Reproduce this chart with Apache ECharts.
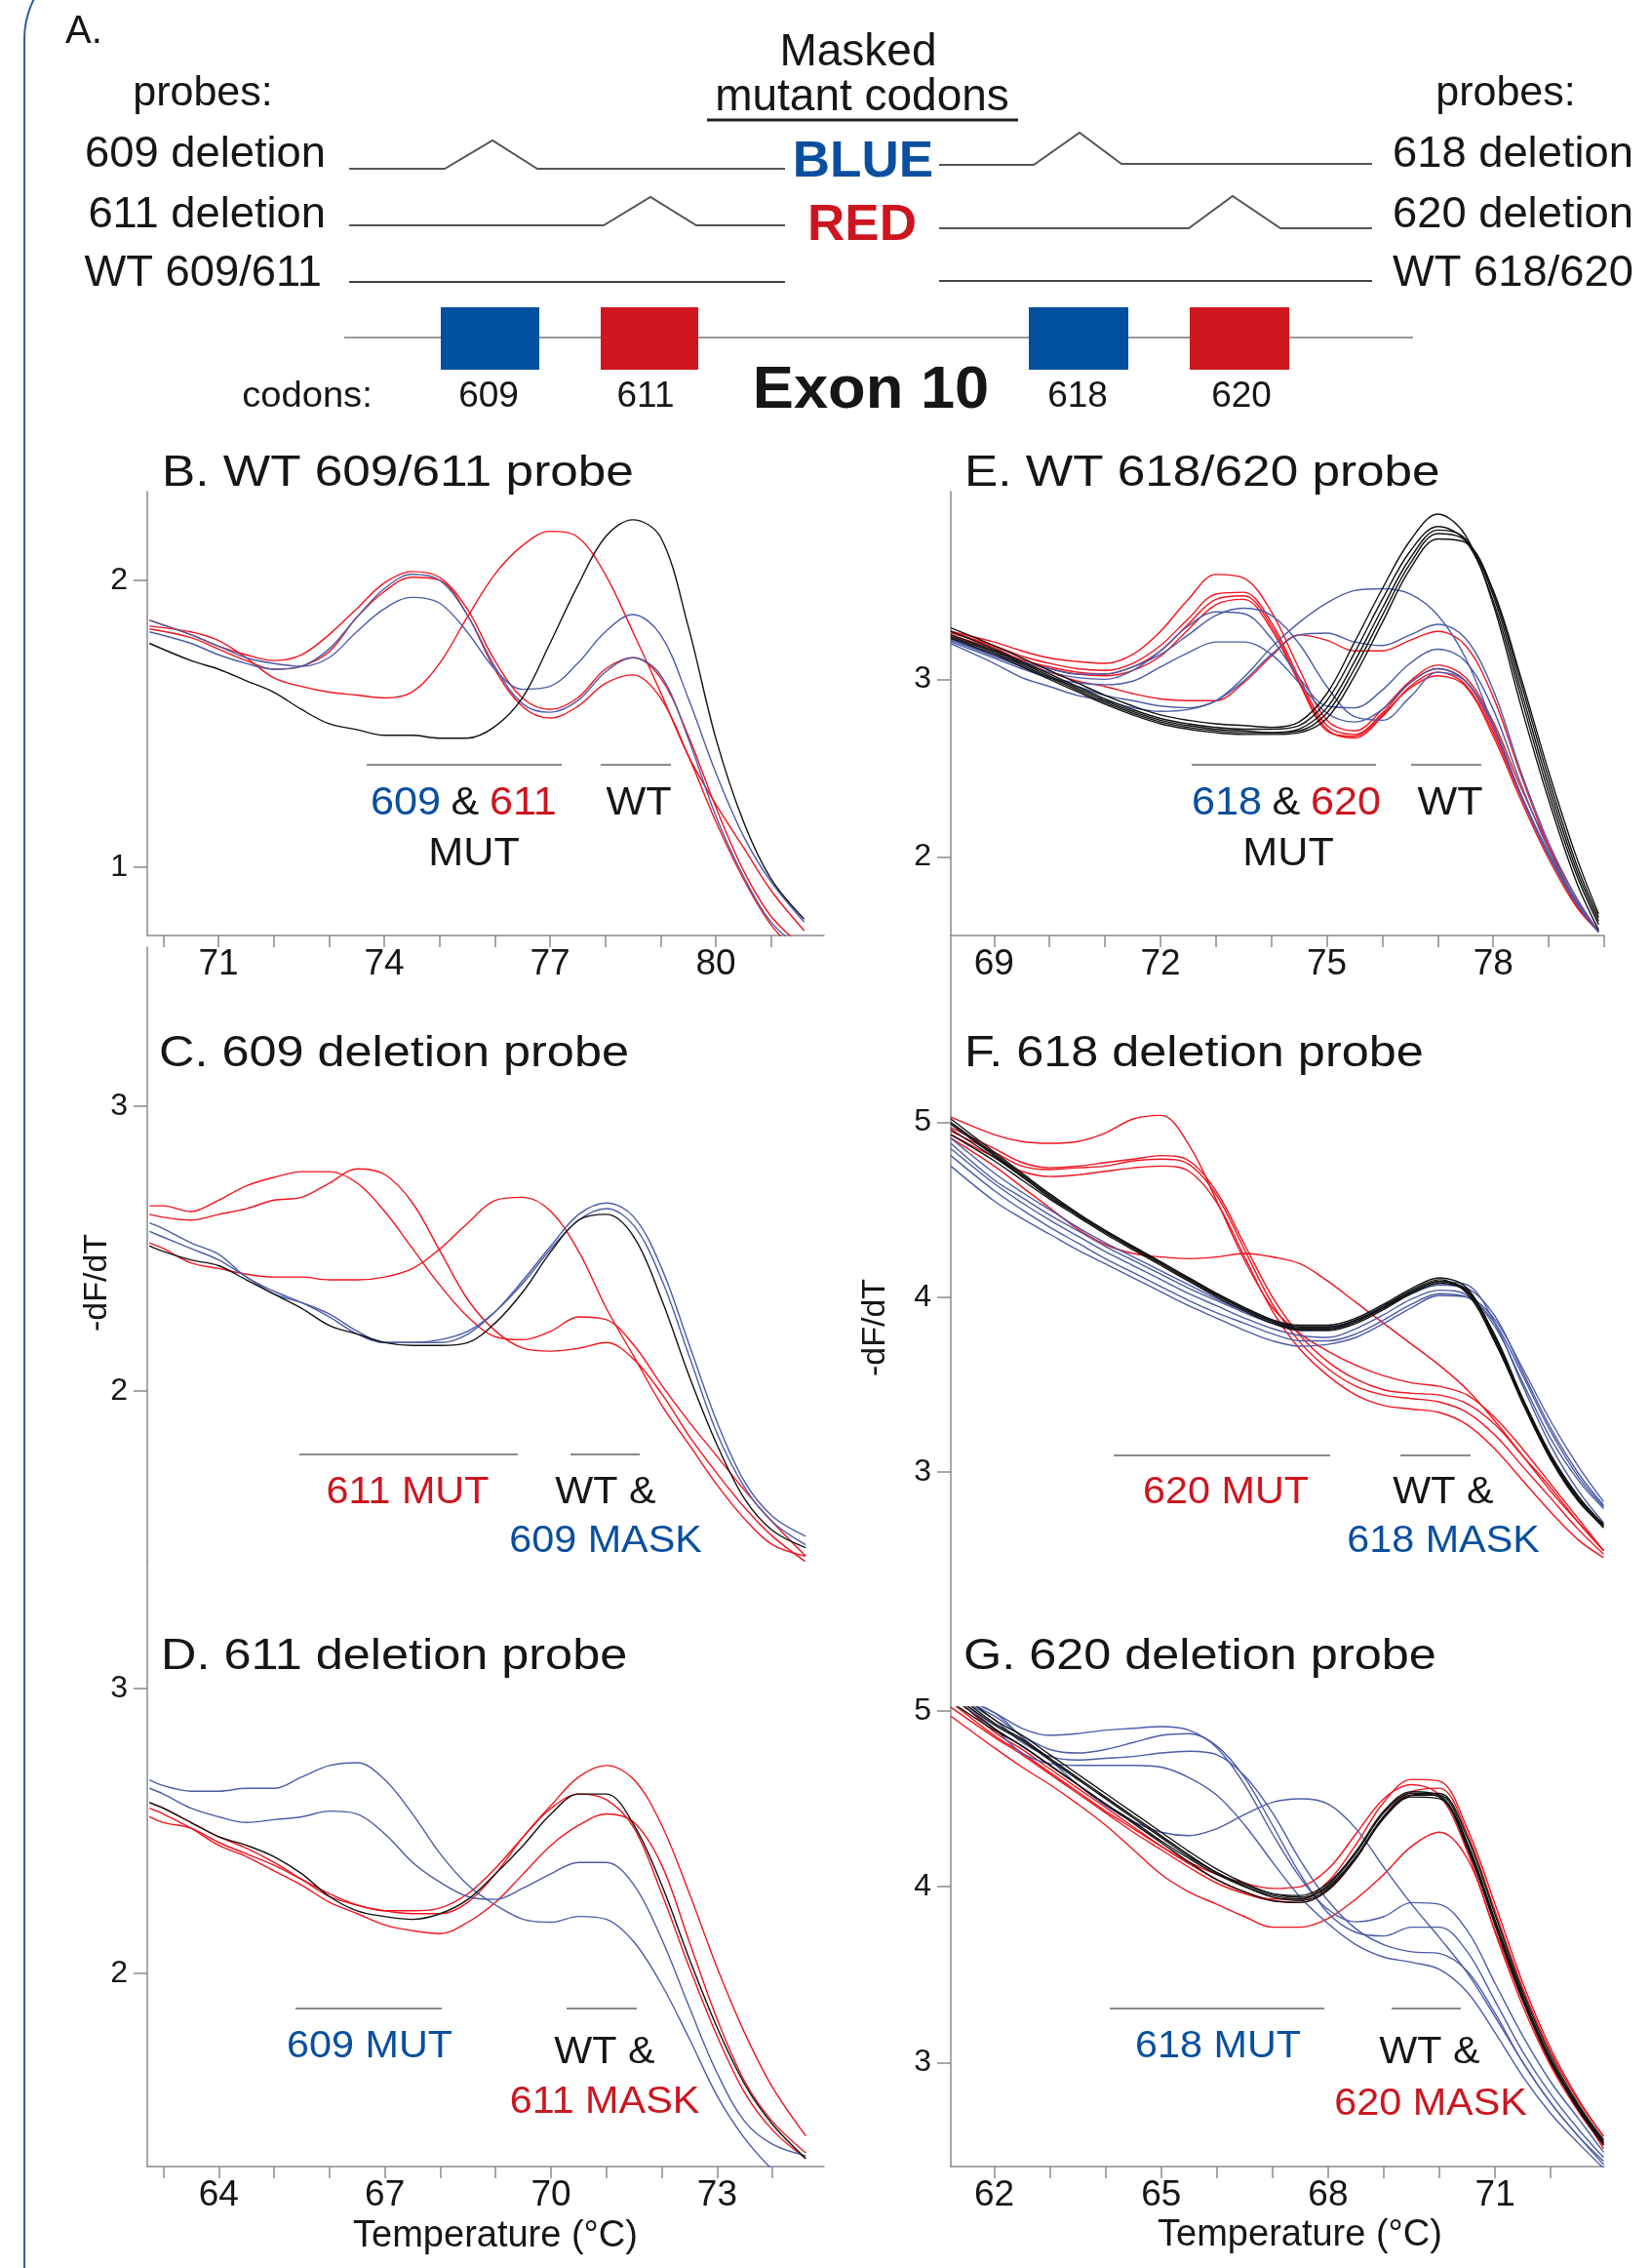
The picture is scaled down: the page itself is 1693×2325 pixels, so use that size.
<!DOCTYPE html>
<html>
<head>
<meta charset="utf-8">
<title>Exon 10 probes</title>
<script src="https://cdn.jsdelivr.net/npm/echarts@6/dist/echarts.min.js"></script>
<style>
  html, body { margin: 0; padding: 0; background: #fff; }
  #chart { width: 1693px; height: 2325px; }
</style>
</head>
<body>
<div id="chart"></div>
<script>
// ---- temperatures (x) ----
var tempB = [69.75, 70.5, 71, 71.5, 72, 72.5, 73, 73.5, 74, 74.5, 75, 75.5, 76, 76.5, 77, 77.5, 78, 78.5, 79, 79.5, 80, 80.5, 81, 81.6];
var tempCD = [62.75, 63, 63.5, 64, 64.5, 65, 65.5, 66, 66.5, 67, 67.5, 68, 68.5, 69, 69.5, 70, 70.5, 71, 71.5, 72, 72.5, 73, 73.5, 74, 74.6];
var tempE = [68.22, 69, 69.5, 70, 70.5, 71, 71.5, 72, 72.5, 73, 73.5, 74, 74.5, 75, 75.5, 76, 76.5, 77, 77.5, 78, 78.5, 79, 79.5, 79.9];
var tempFG = [61.22, 62, 62.5, 63, 63.5, 64, 64.5, 65, 65.5, 66, 66.5, 67, 67.5, 68, 68.5, 69, 69.5, 70, 70.5, 71, 71.5, 72, 72.5, 72.95];

// ---- B. WT 609/611 probe ----
var bWT   = [1.78, 1.72, 1.69, 1.65, 1.61, 1.55, 1.50, 1.48, 1.46, 1.46, 1.45, 1.45, 1.49, 1.59, 1.78, 1.98, 2.15, 2.21, 2.15, 1.84, 1.45, 1.16, 0.96, 0.82];
var bRed1 = [1.84, 1.82, 1.79, 1.73, 1.66, 1.63, 1.61, 1.60, 1.59, 1.61, 1.71, 1.87, 2.02, 2.12, 2.17, 2.15, 2.02, 1.82, 1.61, 1.39, 1.22, 1.07, 0.92, 0.78];
var bRed2 = [1.86, 1.81, 1.77, 1.74, 1.72, 1.74, 1.81, 1.90, 1.99, 2.03, 2.01, 1.90, 1.72, 1.59, 1.55, 1.59, 1.69, 1.73, 1.66, 1.46, 1.21, 0.99, 0.83, 0.72];
var bRed3 = [1.83, 1.80, 1.76, 1.72, 1.69, 1.70, 1.75, 1.87, 1.96, 2.01, 2.00, 1.88, 1.69, 1.56, 1.52, 1.56, 1.64, 1.67, 1.59, 1.39, 1.16, 0.96, 0.80, 0.68];
var bBlue1 = [1.86, 1.81, 1.77, 1.73, 1.71, 1.70, 1.73, 1.82, 1.90, 1.94, 1.92, 1.82, 1.69, 1.62, 1.63, 1.71, 1.82, 1.88, 1.81, 1.59, 1.33, 1.11, 0.95, 0.81];
var bBlue2 = [1.82, 1.78, 1.74, 1.71, 1.69, 1.70, 1.76, 1.87, 1.97, 2.02, 2.00, 1.88, 1.70, 1.57, 1.54, 1.58, 1.68, 1.73, 1.67, 1.45, 1.18, 0.97, 0.81, 0.71];

// ---- C. 609 deletion probe ----
var cRed1 = [2.65, 2.65, 2.63, 2.67, 2.72, 2.75, 2.77, 2.77, 2.73, 2.63, 2.50, 2.37, 2.26, 2.19, 2.18, 2.21, 2.26, 2.25, 2.16, 2.02, 1.89, 1.77, 1.65, 1.54, 1.42];
var cRed2 = [2.62, 2.61, 2.60, 2.62, 2.64, 2.67, 2.68, 2.73, 2.78, 2.76, 2.66, 2.49, 2.32, 2.21, 2.15, 2.14, 2.15, 2.17, 2.11, 1.99, 1.84, 1.71, 1.59, 1.49, 1.40];
var cRed3 = [2.52, 2.50, 2.45, 2.43, 2.41, 2.40, 2.40, 2.39, 2.39, 2.40, 2.43, 2.50, 2.59, 2.67, 2.68, 2.63, 2.49, 2.29, 2.12, 1.95, 1.81, 1.67, 1.55, 1.46, 1.42];
var cWT   = [2.51, 2.49, 2.46, 2.44, 2.39, 2.34, 2.29, 2.23, 2.20, 2.17, 2.16, 2.16, 2.17, 2.24, 2.35, 2.49, 2.60, 2.62, 2.54, 2.32, 2.05, 1.81, 1.62, 1.51, 1.45];
var cBlue1 = [2.59, 2.57, 2.52, 2.48, 2.40, 2.35, 2.31, 2.26, 2.20, 2.17, 2.17, 2.17, 2.20, 2.28, 2.39, 2.51, 2.62, 2.66, 2.61, 2.43, 2.16, 1.89, 1.68, 1.56, 1.49];
var cBlue2 = [2.56, 2.54, 2.50, 2.46, 2.40, 2.34, 2.31, 2.27, 2.21, 2.17, 2.17, 2.18, 2.21, 2.28, 2.38, 2.50, 2.60, 2.64, 2.58, 2.39, 2.12, 1.85, 1.66, 1.54, 1.46];

// ---- D. 611 deletion probe ----
var dWT   = [2.60, 2.58, 2.53, 2.48, 2.45, 2.41, 2.35, 2.27, 2.22, 2.20, 2.19, 2.21, 2.26, 2.35, 2.45, 2.56, 2.63, 2.63, 2.52, 2.31, 2.05, 1.81, 1.61, 1.47, 1.35];
var dRed1 = [2.55, 2.53, 2.51, 2.46, 2.42, 2.38, 2.33, 2.28, 2.24, 2.22, 2.21, 2.21, 2.25, 2.35, 2.48, 2.59, 2.69, 2.73, 2.68, 2.52, 2.28, 2.02, 1.79, 1.60, 1.43];
var dRed2 = [2.60, 2.58, 2.53, 2.48, 2.44, 2.39, 2.33, 2.27, 2.24, 2.22, 2.22, 2.23, 2.28, 2.37, 2.48, 2.58, 2.63, 2.61, 2.51, 2.28, 2.02, 1.78, 1.58, 1.45, 1.35];
var dRed3 = [2.58, 2.56, 2.51, 2.45, 2.41, 2.36, 2.31, 2.25, 2.21, 2.17, 2.15, 2.14, 2.18, 2.25, 2.35, 2.45, 2.52, 2.56, 2.53, 2.38, 2.11, 1.84, 1.62, 1.48, 1.37];
var dBlue1 = [2.68, 2.66, 2.64, 2.64, 2.65, 2.65, 2.69, 2.73, 2.74, 2.68, 2.56, 2.42, 2.31, 2.24, 2.19, 2.18, 2.20, 2.19, 2.11, 1.96, 1.77, 1.57, 1.42, 1.31, 1.20];
var dBlue2 = [2.65, 2.63, 2.58, 2.55, 2.53, 2.54, 2.55, 2.57, 2.56, 2.49, 2.39, 2.32, 2.27, 2.26, 2.30, 2.35, 2.39, 2.39, 2.31, 2.12, 1.88, 1.65, 1.48, 1.40, 1.36];

// ---- E. WT 618/620 probe ----
var eWT1 = [3.29, 3.19, 3.12, 3.05, 2.98, 2.91, 2.85, 2.80, 2.77, 2.75, 2.74, 2.73, 2.76, 2.92, 3.21, 3.51, 3.78, 3.93, 3.81, 3.42, 2.85, 2.32, 1.86, 1.59];
var eWT2 = [3.27, 3.17, 3.10, 3.03, 2.96, 2.89, 2.83, 2.78, 2.75, 2.73, 2.72, 2.72, 2.74, 2.88, 3.15, 3.45, 3.72, 3.86, 3.78, 3.44, 2.90, 2.36, 1.90, 1.62];
var eWT3 = [3.25, 3.16, 3.09, 3.02, 2.95, 2.88, 2.82, 2.77, 2.74, 2.72, 2.71, 2.70, 2.72, 2.84, 3.10, 3.40, 3.68, 3.84, 3.79, 3.47, 2.94, 2.40, 1.93, 1.64];
var eWT4 = [3.24, 3.15, 3.08, 3.01, 2.94, 2.87, 2.81, 2.76, 2.73, 2.71, 2.70, 2.70, 2.71, 2.81, 3.06, 3.36, 3.65, 3.82, 3.78, 3.49, 2.98, 2.44, 1.96, 1.66];
var eWT5 = [3.23, 3.14, 3.07, 3.00, 2.93, 2.86, 2.80, 2.75, 2.72, 2.70, 2.69, 2.69, 2.70, 2.78, 3.02, 3.32, 3.62, 3.79, 3.77, 3.50, 3.01, 2.48, 2.00, 1.68];
var eRed1 = [3.27, 3.21, 3.16, 3.12, 3.10, 3.09, 3.14, 3.27, 3.45, 3.59, 3.57, 3.38, 3.06, 2.77, 2.71, 2.83, 2.99, 3.08, 3.01, 2.76, 2.39, 2.06, 1.77, 1.58];
var eRed2 = [3.26, 3.19, 3.13, 3.09, 3.06, 3.05, 3.09, 3.19, 3.34, 3.48, 3.49, 3.32, 3.01, 2.74, 2.69, 2.81, 2.98, 3.06, 2.99, 2.72, 2.35, 2.02, 1.75, 1.58];
var eRed3 = [3.25, 3.17, 3.11, 3.07, 3.04, 3.03, 3.07, 3.16, 3.31, 3.45, 3.47, 3.30, 2.99, 2.72, 2.67, 2.79, 2.96, 3.04, 2.97, 2.70, 2.34, 2.01, 1.73, 1.58];
var eRed4 = [3.24, 3.16, 3.10, 3.06, 3.03, 3.02, 3.05, 3.13, 3.28, 3.42, 3.45, 3.28, 2.98, 2.71, 2.68, 2.80, 2.95, 3.02, 2.96, 2.68, 2.32, 1.99, 1.72, 1.58];
var eRed5 = [3.27, 3.18, 3.10, 3.04, 2.99, 2.96, 2.92, 2.89, 2.88, 2.88, 2.98, 3.13, 3.25, 3.22, 3.16, 3.16, 3.22, 3.27, 3.19, 2.90, 2.46, 2.06, 1.75, 1.58];
var eBlue1 = [3.23, 3.16, 3.10, 3.06, 3.03, 3.03, 3.07, 3.14, 3.25, 3.36, 3.40, 3.36, 3.20, 2.96, 2.79, 2.77, 2.90, 3.04, 2.99, 2.74, 2.35, 2.02, 1.75, 1.58];
var eBlue2 = [3.22, 3.14, 3.09, 3.04, 3.01, 3.00, 3.05, 3.16, 3.30, 3.38, 3.37, 3.23, 3.01, 2.85, 2.84, 2.94, 3.09, 3.17, 3.10, 2.83, 2.41, 2.04, 1.75, 1.58];
var eBlue3 = [3.21, 3.12, 3.06, 3.01, 2.98, 2.97, 2.99, 3.07, 3.15, 3.21, 3.21, 3.14, 2.98, 2.81, 2.76, 2.83, 2.98, 3.06, 2.99, 2.74, 2.35, 2.01, 1.74, 1.58];
var eBlue4 = [3.20, 3.09, 3.01, 2.96, 2.91, 2.88, 2.84, 2.82, 2.83, 2.88, 3.01, 3.18, 3.32, 3.43, 3.50, 3.51, 3.48, 3.36, 3.12, 2.74, 2.35, 2.01, 1.74, 1.58];
var eBlue5 = [3.22, 3.13, 3.07, 3.01, 2.96, 2.91, 2.88, 2.85, 2.84, 2.88, 2.99, 3.14, 3.25, 3.26, 3.21, 3.19, 3.25, 3.31, 3.23, 2.94, 2.48, 2.08, 1.77, 1.58];

// ---- F. 618 deletion probe ----
var fRed1 = [5.03, 4.93, 4.89, 4.88, 4.89, 4.94, 5.02, 5.04, 4.87, 4.55, 4.21, 3.94, 3.79, 3.69, 3.61, 3.55, 3.51, 3.49, 3.44, 3.31, 3.13, 2.93, 2.73, 2.55];
var fRed2 = [4.97, 4.85, 4.77, 4.74, 4.75, 4.77, 4.79, 4.81, 4.78, 4.60, 4.30, 4.00, 3.78, 3.63, 3.53, 3.47, 3.45, 3.44, 3.39, 3.27, 3.09, 2.91, 2.71, 2.55];
var fRed3 = [4.95, 4.83, 4.75, 4.73, 4.74, 4.75, 4.78, 4.79, 4.76, 4.58, 4.27, 3.96, 3.74, 3.59, 3.49, 3.44, 3.42, 3.40, 3.34, 3.21, 3.03, 2.85, 2.67, 2.53];
var fRed4 = [4.93, 4.80, 4.72, 4.69, 4.70, 4.72, 4.74, 4.75, 4.72, 4.54, 4.23, 3.92, 3.70, 3.55, 3.44, 3.38, 3.36, 3.34, 3.27, 3.13, 2.95, 2.77, 2.61, 2.51];
var fRed5 = [4.91, 4.75, 4.63, 4.51, 4.39, 4.30, 4.25, 4.23, 4.22, 4.23, 4.25, 4.23, 4.19, 4.09, 3.97, 3.85, 3.73, 3.61, 3.47, 3.29, 3.09, 2.89, 2.71, 2.55];
var fWT1 = [5.02, 4.83, 4.71, 4.59, 4.48, 4.38, 4.29, 4.20, 4.11, 4.02, 3.94, 3.87, 3.83, 3.83, 3.87, 3.95, 4.04, 4.10, 4.02, 3.74, 3.40, 3.08, 2.84, 2.69];
var fWT2 = [4.99, 4.81, 4.69, 4.57, 4.47, 4.37, 4.28, 4.19, 4.10, 4.01, 3.93, 3.86, 3.82, 3.82, 3.87, 3.94, 4.03, 4.09, 4.03, 3.75, 3.39, 3.07, 2.83, 2.69];
var fWT3 = [4.96, 4.80, 4.69, 4.58, 4.47, 4.37, 4.28, 4.19, 4.10, 4.01, 3.93, 3.86, 3.82, 3.82, 3.86, 3.94, 4.03, 4.09, 4.04, 3.77, 3.41, 3.09, 2.85, 2.70];
var fWT4 = [4.93, 4.78, 4.67, 4.56, 4.46, 4.36, 4.27, 4.18, 4.09, 4.00, 3.92, 3.85, 3.81, 3.81, 3.85, 3.93, 4.02, 4.08, 4.03, 3.78, 3.42, 3.10, 2.86, 2.70];
var fWT5 = [5.00, 4.82, 4.70, 4.59, 4.48, 4.38, 4.29, 4.20, 4.11, 4.02, 3.94, 3.87, 3.84, 3.84, 3.88, 3.96, 4.05, 4.11, 4.05, 3.76, 3.40, 3.08, 2.84, 2.68];
var fBlue1 = [4.88, 4.67, 4.57, 4.47, 4.38, 4.29, 4.21, 4.13, 4.05, 3.98, 3.91, 3.85, 3.81, 3.81, 3.86, 3.94, 4.02, 4.07, 4.05, 3.89, 3.57, 3.25, 2.99, 2.81];
var fBlue2 = [4.85, 4.65, 4.54, 4.44, 4.35, 4.26, 4.18, 4.10, 4.02, 3.95, 3.88, 3.82, 3.78, 3.77, 3.82, 3.90, 3.99, 4.04, 4.01, 3.83, 3.51, 3.19, 2.95, 2.79];
var fBlue3 = [4.81, 4.61, 4.50, 4.40, 4.31, 4.22, 4.14, 4.06, 3.98, 3.91, 3.85, 3.79, 3.75, 3.75, 3.79, 3.87, 3.96, 4.02, 4.00, 3.85, 3.55, 3.23, 2.97, 2.80];
var fBlue4 = [4.75, 4.55, 4.45, 4.36, 4.27, 4.19, 4.11, 4.03, 3.95, 3.88, 3.81, 3.75, 3.72, 3.73, 3.77, 3.85, 3.94, 4.01, 4.00, 3.87, 3.59, 3.29, 3.03, 2.83];
var fBlue5 = [4.91, 4.71, 4.60, 4.50, 4.40, 4.31, 4.23, 4.15, 4.07, 3.99, 3.92, 3.86, 3.83, 3.83, 3.87, 3.95, 4.03, 4.09, 4.07, 3.85, 3.49, 3.15, 2.89, 2.71];

// ---- G. 620 deletion probe ----
var gWT1 = [5.05, 4.89, 4.80, 4.69, 4.58, 4.47, 4.37, 4.26, 4.16, 4.07, 4.00, 3.95, 3.93, 4.01, 4.19, 4.42, 4.53, 4.51, 4.22, 3.78, 3.35, 3.00, 2.73, 2.53];
var gWT2 = [5.10, 4.92, 4.83, 4.72, 4.61, 4.50, 4.39, 4.28, 4.17, 4.08, 4.00, 3.94, 3.92, 3.99, 4.17, 4.40, 4.52, 4.52, 4.25, 3.81, 3.38, 3.02, 2.75, 2.55];
var gWT3 = [5.15, 4.95, 4.86, 4.75, 4.64, 4.53, 4.42, 4.31, 4.20, 4.10, 4.02, 3.96, 3.94, 4.00, 4.17, 4.39, 4.52, 4.53, 4.28, 3.84, 3.40, 3.04, 2.76, 2.56];
var gWT4 = [5.08, 4.90, 4.80, 4.69, 4.58, 4.47, 4.36, 4.25, 4.14, 4.04, 3.97, 3.92, 3.91, 3.98, 4.16, 4.39, 4.51, 4.50, 4.23, 3.79, 3.36, 3.01, 2.74, 2.54];
var gWT5 = [5.12, 4.93, 4.84, 4.73, 4.62, 4.51, 4.40, 4.29, 4.18, 4.08, 4.01, 3.96, 3.95, 4.02, 4.20, 4.43, 4.54, 4.52, 4.24, 3.80, 3.37, 3.01, 2.74, 2.54];
var gRed1 = [4.97, 4.79, 4.68, 4.58, 4.47, 4.35, 4.21, 4.07, 3.97, 3.90, 3.83, 3.77, 3.77, 3.82, 3.93, 4.07, 4.23, 4.31, 4.16, 3.75, 3.35, 2.99, 2.74, 2.51];
var gRed2 = [5.10, 4.88, 4.78, 4.67, 4.56, 4.45, 4.34, 4.23, 4.13, 4.04, 3.97, 3.93, 3.93, 4.03, 4.24, 4.48, 4.61, 4.60, 4.33, 3.90, 3.45, 3.08, 2.79, 2.58];
var gRed3 = [5.05, 4.86, 4.76, 4.65, 4.54, 4.43, 4.33, 4.23, 4.14, 4.07, 4.02, 3.99, 4.00, 4.10, 4.30, 4.50, 4.58, 4.52, 4.20, 3.74, 3.32, 2.98, 2.72, 2.53];
var gRed4 = [5.02, 4.85, 4.75, 4.64, 4.53, 4.42, 4.31, 4.21, 4.11, 4.02, 3.96, 3.92, 3.91, 3.98, 4.16, 4.40, 4.54, 4.56, 4.30, 3.86, 3.42, 3.06, 2.78, 2.58];
var gBlue1 = [5.10, 4.99, 4.90, 4.86, 4.87, 4.89, 4.90, 4.91, 4.89, 4.79, 4.58, 4.30, 4.05, 3.87, 3.80, 3.83, 3.91, 3.90, 3.75, 3.45, 3.15, 2.89, 2.68, 2.49];
var gBlue2 = [5.10, 4.97, 4.86, 4.78, 4.76, 4.78, 4.82, 4.86, 4.87, 4.80, 4.62, 4.35, 4.07, 3.85, 3.74, 3.72, 3.77, 3.77, 3.63, 3.35, 3.06, 2.82, 2.62, 2.46];
var gBlue3 = [5.10, 4.95, 4.82, 4.74, 4.72, 4.73, 4.74, 4.76, 4.77, 4.75, 4.63, 4.42, 4.15, 3.92, 3.76, 3.67, 3.63, 3.62, 3.52, 3.28, 3.00, 2.77, 2.58, 2.44];
var gBlue4 = [5.10, 4.90, 4.76, 4.70, 4.69, 4.69, 4.69, 4.68, 4.62, 4.52, 4.35, 4.14, 3.94, 3.79, 3.67, 3.60, 3.57, 3.53, 3.40, 3.17, 2.92, 2.71, 2.54, 2.40];
var gBlue5 = [5.10, 4.99, 4.85, 4.72, 4.58, 4.46, 4.37, 4.31, 4.29, 4.33, 4.41, 4.48, 4.50, 4.47, 4.33, 4.11, 3.90, 3.71, 3.51, 3.26, 3.00, 2.77, 2.58, 2.42];

// ---- tick labels ----
var ticksB = [70, 71, 72, 73, 74, 75, 76, 77, 78, 79, 80, 81];
var labelsB = [71, 74, 77, 80];
var ticksCD = [63, 64, 65, 66, 67, 68, 69, 70, 71, 72, 73, 74];
var labelsCD = [64, 67, 70, 73];
var ticksE = [69, 70, 71, 72, 73, 74, 75, 76, 77, 78, 79, 80];
var labelsE = [69, 72, 75, 78];
var ticksFG = [62, 63, 64, 65, 66, 67, 68, 69, 70, 71, 72];
var labelsFG = [62, 65, 68, 71];

var FONT = '"Liberation Sans", Arial, Helvetica, sans-serif';
var RED = '#f0141e', BLUE = '#4d5ca8', BLACK = '#111111';
var TXT_BLUE = '#0a4f9f', TXT_RED = '#cc161f', TXT = '#161616';
var AXIS = '#8a8a8a';

var chart = echarts.init(document.getElementById('chart'));

function curve(idx, xs, ys, color) {
    return {
        type: 'line', xAxisIndex: idx, yAxisIndex: idx,
        data: xs.map(function (x, i) { return [x, ys[i]]; }),
        smooth: 0.35, showSymbol: false, symbol: 'none', clip: true, silent: true,
        lineStyle: { color: color, width: 1.4 }
    };
}

function xAx(idx, min, max, ticks, labels, show) {
    return {
        type: 'value', gridIndex: idx, min: min, max: max, show: show,
        axisLine: { show: true, lineStyle: { color: AXIS, width: 1.5 } },
        axisTick: { show: true, length: 12, customValues: ticks, lineStyle: { color: AXIS, width: 1.5 } },
        axisLabel: { customValues: labels, fontSize: 37, color: TXT, fontFamily: FONT, margin: 11 },
        splitLine: { show: false }
    };
}

function yAx(idx, min, max, ticks) {
    return {
        type: 'value', gridIndex: idx, min: min, max: max,
        axisLine: { show: true, lineStyle: { color: AXIS, width: 1.5 } },
        axisTick: { show: true, length: 14, customValues: ticks, lineStyle: { color: AXIS, width: 1.5 } },
        axisLabel: { customValues: ticks, fontSize: 32, color: TXT, fontFamily: FONT, margin: 20 },
        splitLine: { show: false }
    };
}

function T(x, y, text, o) {
    o = o || {};
    var size = o.size || 40, weight = o.weight || 'normal', align = o.align || 'center';
    return {
        type: 'text', x: x, y: y, silent: true,
        rotation: o.rotation || 0, scaleX: o.sx || 1,
        style: {
            text: text, fill: o.color || TXT,
            font: weight + ' ' + size + 'px ' + FONT,
            fontSize: size, fontFamily: FONT, fontWeight: weight,
            textAlign: align, align: align,
            textVerticalAlign: 'middle', verticalAlign: 'middle'
        }
    };
}

function L(points, color, width) {
    return {
        type: 'polyline', silent: true,
        shape: { points: points },
        style: { stroke: color || AXIS, lineWidth: width || 2, fill: null }
    };
}

function R(x, y, w, h, color) {
    return { type: 'rect', silent: true, shape: { x: x, y: y, width: w, height: h }, style: { fill: color } };
}

var graphics = [
    // frame
    { type: 'rect', silent: true, shape: { x: 25, y: -50, width: 3000, height: 3000, r: 90 }, style: { fill: null, stroke: '#2f5f9e', lineWidth: 2 } },
    // panel A
    T(67, 33, 'A.', { size: 40, align: 'left' }),
    T(880, 54, 'Masked', { size: 46 }),
    T(884, 100, 'mutant codons', { size: 46 }),
    L([[725, 123], [1044, 123]], '#222', 3),
    T(208, 96, 'probes:', { size: 43 }),
    T(1544, 96, 'probes:', { size: 43 }),
    T(334, 159, '609 deletion', { size: 44, align: 'right', sx: 1.03 }),
    T(334, 221, '611 deletion', { size: 44, align: 'right', sx: 1.03 }),
    T(330, 281, 'WT 609/611', { size: 44, align: 'right', sx: 1.03 }),
    T(1428, 159, '618 deletion', { size: 44, align: 'left', sx: 1.03 }),
    T(1428, 221, '620 deletion', { size: 44, align: 'left', sx: 1.03 }),
    T(1428, 281, 'WT 618/620', { size: 44, align: 'left', sx: 1.03 }),
    L([[358, 173], [456, 173], [505, 144], [551, 173], [805, 173]], '#555', 2),
    L([[358, 231], [619, 231], [667, 202], [714, 231], [805, 231]], '#555', 2),
    L([[358, 289], [805, 289]], '#444', 2),
    L([[963, 169], [1060, 169], [1107, 136], [1150, 168], [1407, 168]], '#555', 2),
    L([[963, 234], [1219, 234], [1264, 201], [1313, 234], [1407, 234]], '#555', 2),
    L([[963, 288], [1407, 288]], '#444', 2),
    T(885, 167, 'BLUE', { size: 52, weight: 'bold', color: TXT_BLUE, sx: 1.02 }),
    T(884, 232, 'RED', { size: 52, weight: 'bold', color: TXT_RED, sx: 1.02 }),
    L([[353, 346], [1449, 346]], '#9a9a9a', 2),
    R(452, 315, 101, 64, '#00509e'),
    R(616, 315, 100, 64, '#d0161f'),
    R(1055, 315, 102, 64, '#00509e'),
    R(1220, 315, 102, 64, '#d0161f'),
    T(315, 407, 'codons:', { size: 37, sx: 1.03 }),
    T(501, 407, '609', { size: 37 }),
    T(662, 407, '611', { size: 37 }),
    T(1105, 407, '618', { size: 37 }),
    T(1273, 407, '620', { size: 37 }),
    T(893, 401, 'Exon 10', { size: 62, weight: 'bold', sx: 1.02 }),
    // panel titles
    T(166, 486, 'B. WT 609/611 probe', { size: 45, align: 'left', sx: 1.14 }),
    T(989, 486, 'E. WT 618/620 probe', { size: 45, align: 'left', sx: 1.14 }),
    T(163, 1081, 'C. 609 deletion probe', { size: 45, align: 'left', sx: 1.12 }),
    T(989, 1081, 'F. 618 deletion probe', { size: 45, align: 'left', sx: 1.12 }),
    T(165, 1699, 'D. 611 deletion probe', { size: 45, align: 'left', sx: 1.12 }),
    T(988, 1699, 'G. 620 deletion probe', { size: 45, align: 'left', sx: 1.12 }),
    // B annotations
    L([[376, 784], [576, 784]]), L([[616, 784], [688, 784]]),
    T(452, 824, '609', { size: 40, align: 'right', color: TXT_BLUE, sx: 1.08 }),
    T(477, 824, '&', { size: 40, sx: 1.08 }),
    T(502, 824, '611', { size: 40, align: 'left', color: TXT_RED, sx: 1.08 }),
    T(486, 876, 'MUT', { size: 40, sx: 1.08 }),
    T(655, 824, 'WT', { size: 40, sx: 1.08 }),
    // E annotations
    L([[1222, 784], [1411, 784]]), L([[1447, 784], [1519, 784]]),
    T(1294, 824, '618', { size: 40, align: 'right', color: TXT_BLUE, sx: 1.08 }),
    T(1319, 824, '&', { size: 40, sx: 1.08 }),
    T(1344, 824, '620', { size: 40, align: 'left', color: TXT_RED, sx: 1.08 }),
    T(1321, 876, 'MUT', { size: 40, sx: 1.08 }),
    T(1487, 824, 'WT', { size: 40, sx: 1.08 }),
    // C annotations
    L([[307, 1491], [531, 1491]]), L([[585, 1491], [656, 1491]]),
    T(418, 1530, '611 MUT', { size: 39, color: TXT_RED, sx: 1.06 }),
    T(621, 1530, 'WT &', { size: 39, sx: 1.06 }),
    T(621, 1580, '609 MASK', { size: 39, color: TXT_BLUE, sx: 1.06 }),
    // F annotations
    L([[1142, 1492], [1364, 1492]]), L([[1436, 1492], [1508, 1492]]),
    T(1257, 1530, '620 MUT', { size: 39, color: TXT_RED, sx: 1.06 }),
    T(1480, 1530, 'WT &', { size: 39, sx: 1.06 }),
    T(1480, 1580, '618 MASK', { size: 39, color: TXT_BLUE, sx: 1.06 }),
    // D annotations
    L([[303, 2059], [453, 2059]]), L([[581, 2059], [653, 2059]]),
    T(379, 2098, '609 MUT', { size: 39, color: TXT_BLUE, sx: 1.06 }),
    T(620, 2104, 'WT &', { size: 39, sx: 1.06 }),
    T(620, 2155, '611 MASK', { size: 39, color: TXT_RED, sx: 1.06 }),
    // G annotations
    L([[1138, 2059], [1358, 2059]]), L([[1427, 2059], [1498, 2059]]),
    T(1249, 2098, '618 MUT', { size: 39, color: TXT_BLUE, sx: 1.06 }),
    T(1466, 2104, 'WT &', { size: 39, sx: 1.06 }),
    T(1467, 2157, '620 MASK', { size: 39, color: TXT_RED, sx: 1.06 }),
    // axis titles
    T(100, 1315, '-dF/dT', { size: 34, rotation: Math.PI / 2 }),
    T(898, 1361, '-dF/dT', { size: 34, rotation: Math.PI / 2 }),
    T(508, 2293, 'Temperature (\u00B0C)', { size: 38 }),
    T(1333, 2292, 'Temperature (\u00B0C)', { size: 38 })
];

var series = [
    curve(0, tempB, bRed1, RED), curve(0, tempB, bRed2, RED), curve(0, tempB, bRed3, RED),
    curve(0, tempB, bBlue1, BLUE), curve(0, tempB, bBlue2, BLUE), curve(0, tempB, bWT, BLACK),

    curve(1, tempCD, cRed1, RED), curve(1, tempCD, cRed2, RED), curve(1, tempCD, cRed3, RED),
    curve(1, tempCD, cBlue1, BLUE), curve(1, tempCD, cBlue2, BLUE), curve(1, tempCD, cWT, BLACK),

    curve(2, tempCD, dRed1, RED), curve(2, tempCD, dRed2, RED), curve(2, tempCD, dRed3, RED),
    curve(2, tempCD, dBlue1, BLUE), curve(2, tempCD, dBlue2, BLUE), curve(2, tempCD, dWT, BLACK),

    curve(3, tempE, eRed1, RED), curve(3, tempE, eRed2, RED), curve(3, tempE, eRed3, RED),
    curve(3, tempE, eRed4, RED), curve(3, tempE, eRed5, RED),
    curve(3, tempE, eBlue1, BLUE), curve(3, tempE, eBlue2, BLUE), curve(3, tempE, eBlue3, BLUE),
    curve(3, tempE, eBlue4, BLUE), curve(3, tempE, eBlue5, BLUE),
    curve(3, tempE, eWT1, BLACK), curve(3, tempE, eWT2, BLACK), curve(3, tempE, eWT3, BLACK),
    curve(3, tempE, eWT4, BLACK), curve(3, tempE, eWT5, BLACK),

    curve(4, tempFG, fRed1, RED), curve(4, tempFG, fRed2, RED), curve(4, tempFG, fRed3, RED),
    curve(4, tempFG, fRed4, RED), curve(4, tempFG, fRed5, RED),
    curve(4, tempFG, fBlue1, BLUE), curve(4, tempFG, fBlue2, BLUE), curve(4, tempFG, fBlue3, BLUE),
    curve(4, tempFG, fBlue4, BLUE), curve(4, tempFG, fBlue5, BLUE),
    curve(4, tempFG, fWT1, BLACK), curve(4, tempFG, fWT2, BLACK), curve(4, tempFG, fWT3, BLACK),
    curve(4, tempFG, fWT4, BLACK), curve(4, tempFG, fWT5, BLACK),

    curve(5, tempFG, gRed1, RED), curve(5, tempFG, gRed2, RED), curve(5, tempFG, gRed3, RED),
    curve(5, tempFG, gRed4, RED),
    curve(5, tempFG, gBlue1, BLUE), curve(5, tempFG, gBlue2, BLUE), curve(5, tempFG, gBlue3, BLUE),
    curve(5, tempFG, gBlue4, BLUE), curve(5, tempFG, gBlue5, BLUE),
    curve(5, tempFG, gWT1, BLACK), curve(5, tempFG, gWT2, BLACK), curve(5, tempFG, gWT3, BLACK),
    curve(5, tempFG, gWT4, BLACK), curve(5, tempFG, gWT5, BLACK)
];

var option = {
    animation: false,
    backgroundColor: '#ffffff',
    grid: [
        { left: 151, top: 504, width: 694, height: 455, outerBoundsMode: 'none' },   // B
        { left: 151, top: 971, width: 694, height: 629, outerBoundsMode: 'none' },   // C
        { left: 151, top: 1600, width: 694, height: 621, outerBoundsMode: 'none' },  // D
        { left: 975, top: 504, width: 670, height: 455, outerBoundsMode: 'none' },   // E
        { left: 975, top: 959, width: 670, height: 791, outerBoundsMode: 'none' },   // F
        { left: 975, top: 1750, width: 670, height: 471, outerBoundsMode: 'none' }   // G
    ],
    xAxis: [
        xAx(0, 69.71, 81.96, ticksB, labelsB, true),
        xAx(1, 62.71, 74.93, ticksCD, labelsCD, false),
        xAx(2, 62.71, 74.93, ticksCD, labelsCD, true),
        xAx(3, 68.22, 80, ticksE, labelsE, true),
        xAx(4, 61.22, 72.96, ticksFG, labelsFG, false),
        xAx(5, 61.22, 72.96, ticksFG, labelsFG, true)
    ],
    yAxis: [
        yAx(0, 0.763, 2.308, [1, 2]),
        yAx(1, 1.404, 3.558, [2, 3]),
        yAx(2, 1.322, 3.449, [2, 3]),
        yAx(3, 1.559, 4.056, [2, 3]),
        yAx(4, 1.655, 6.069, [3, 4, 5]),
        yAx(5, 2.409, 5.021, [3, 4, 5])
    ],
    series: series,
    graphic: { elements: graphics }
};

chart.setOption(option);
</script>
</body>
</html>
